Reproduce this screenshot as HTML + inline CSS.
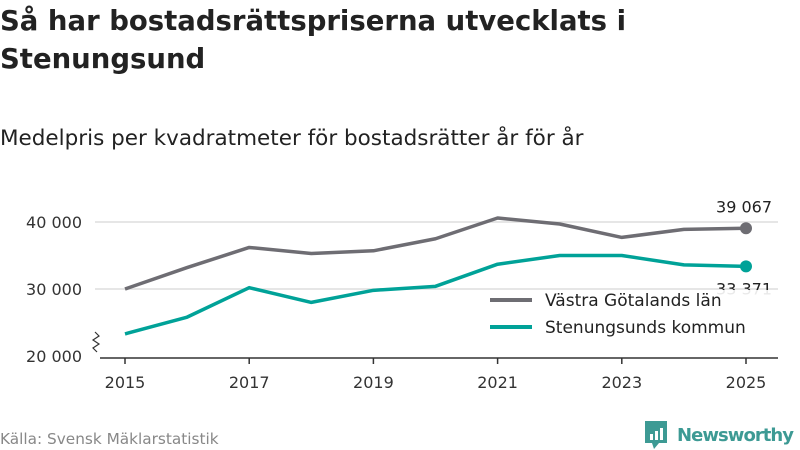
<!DOCTYPE html>
<html><head><meta charset="utf-8"><style>
body{margin:0;width:800px;height:450px;background:#fff;font-family:"DejaVu Sans","Liberation Sans",sans-serif;overflow:hidden;position:relative}
h1{position:absolute;left:0;top:2px;margin:0;font-size:27.5px;line-height:38px;font-weight:bold;color:#222;width:720px}
.sub{position:absolute;left:0;top:126px;font-size:21.5px;color:#222}
.src{position:absolute;left:0;top:430px;font-size:15.3px;color:#888}
</style></head><body>
<h1>Så har bostadsrättspriserna utvecklats i Stenungsund</h1>
<div class="sub">Medelpris per kvadratmeter för bostadsrätter år för år</div>
<div class="src">Källa: Svensk Mäklarstatistik</div>
<svg id="c" width="800" height="450" style="position:absolute;left:0;top:0"></svg>
<script>
const years=[2015,2016,2017,2018,2019,2020,2021,2022,2023,2024,2025];
const vastra=[30000,33200,36200,35300,35700,37500,40600,39700,37700,38900,39067];
const stenung=[23300,25800,30200,28000,29800,30400,33700,35000,35000,33600,33371];
const yTicks=[20000,30000,40000];
const xTicks=[2015,2017,2019,2021,2023,2025];
const ns="http://www.w3.org/2000/svg",svg=document.getElementById('c');
const X=y=>125+(y-2015)*62.1, Y=v=>356-(v-20000)*0.0067;
function el(t,a,p){const e=document.createElementNS(ns,t);for(const k in a)e.setAttribute(k,a[k]);(p||svg).appendChild(e);return e;}
const fmt=v=>String(v).replace(/\B(?=(\d{3})+$)/g,' ');
yTicks.forEach(v=>{
 if(v>20000){const g=el('line',{x1:95,x2:778,y1:Y(v),y2:Y(v),stroke:'#ddd','stroke-width':1.5});
 }
 const t=el('text',{x:82,y:Y(v)+6,'text-anchor':'end','font-size':16,fill:'#333'});t.textContent=fmt(v);
 
});
const ax=el('line',{x1:100,x2:778,y1:358,y2:358,stroke:'#333','stroke-width':1.5});

const br=el('path',{d:'M95 332 l4 4 -6 4 6 4 -6 4 4 4',fill:'none',stroke:'#333','stroke-width':1.2});

xTicks.forEach(y=>{
 el('line',{x1:X(y),x2:X(y),y1:358,y2:364,stroke:'#333','stroke-width':1.5});
 const t=el('text',{x:X(y),y:388,'text-anchor':'middle','font-size':16,fill:'#333'});t.textContent=y;
 
});
function series(vals,col,name){
 const p=el('polyline',{points:vals.map((v,i)=>X(years[i])+','+Y(v)).join(' '),fill:'none',stroke:col,'stroke-width':3.5,'stroke-linejoin':'round'});
 
 const n=vals.length-1;
 const c=el('circle',{cx:X(years[n]),cy:Y(vals[n]),r:6,fill:col});
 
}
series(vastra,'#6e6d73','vastra');
series(stenung,'#00a298','stenungsund');
const l1=el('text',{x:772,y:Y(vastra[10])-16,'text-anchor':'end','font-size':16,fill:'#222'});l1.textContent=fmt(vastra[10]);

const l2=el('text',{x:772,y:Y(stenung[10])+28,'text-anchor':'end','font-size':16,fill:'#222'});l2.textContent=fmt(stenung[10]);

const lg=el('g',{});
el('rect',{x:482,y:290,width:296,height:56,fill:'#fff','fill-opacity':0.9},lg);
[['Västra Götalands län','#6e6d73',300],['Stenungsunds kommun','#00a298',327]].forEach(([t,c,y])=>{
 el('line',{x1:490,x2:532,y1:y,y2:y,stroke:c,'stroke-width':4},lg);
 const tx=el('text',{x:545,y:y+6,'font-size':17,fill:'#222'},lg);tx.textContent=t;
 
});
const lo=el('g',{});
el('path',{d:'M645 421 h22 v22 h-8 l-5 6 -2 -6 h-7 z',fill:'#3d9a94'},lo);
[[650,434,3,6],[655,431,3,9],[660,428,3,12]].forEach(r=>el('rect',{x:r[0],y:r[1],width:r[2],height:r[3],fill:'#fff'},lo));
const lt=el('text',{x:677,y:441,'font-size':18,'font-weight':'bold',fill:'#3d9a94',textLength:117},lo);lt.textContent='Newsworthy';
</script>
</body></html>
